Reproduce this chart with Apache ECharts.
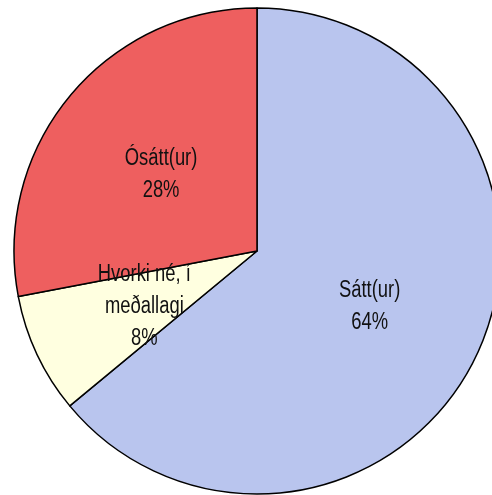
<!DOCTYPE html>
<html><head><meta charset="utf-8">
<script src="https://cdn.jsdelivr.net/npm/echarts@6/dist/echarts.min.js"></script>
<style>html,body{margin:0;padding:0;background:#fff}#c{width:492px;height:495px}</style>
</head><body><div id="c"></div>
<script>
const categories = ["Sátt(ur)", "Hvorki né, í\nmeðallagi", "Ósátt(ur)"];
const values = [64, 8, 28];
const colors = ["#B9C5EE", "#FFFFE0", "#EE5F5F"];

const chart = echarts.init(document.getElementById('c'));
chart.setOption({
  animation: false,
  series: [{
    type: 'pie',
    center: [257, 251],
    radius: 243,
    startAngle: 90,
    clockwise: true,
    data: categories.map((n, i) => ({name: n, value: values[i], itemStyle: {color: colors[i]}})),
    itemStyle: {borderColor: '#000', borderWidth: 1.5},
    label: {
      position: 'inside',
      formatter: p => p.name + '\n' + p.value + '%',
      fontFamily: '"Liberation Sans Narrow", "Arial Narrow", "Liberation Sans", Arial, sans-serif',
      fontSize: 23,
      lineHeight: 32,
      offset: [0, 3],
      color: '#111'
    },
    labelLine: {show: false},
    emphasis: {disabled: true}
  }]
});
// condense label text horizontally (like Arial Narrow)
try {
  const data = chart.getModel().getSeriesByIndex(0).getData();
  for (let i = 0; i < data.count(); i++) {
    const el = data.getItemGraphicEl(i);
    const t = el && el.getTextContent && el.getTextContent();
    if (t) { t.scaleX = 0.8; t.markRedraw(); }
  }
  chart.getZr().refreshImmediately();
} catch (e) {}
</script></body></html>
